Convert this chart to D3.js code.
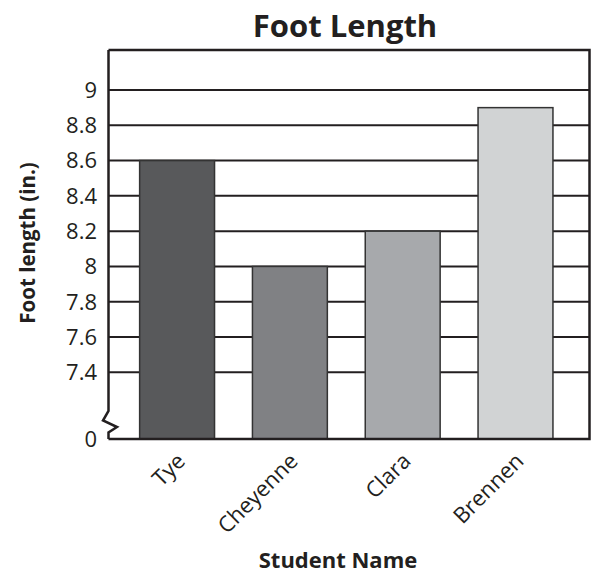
<!DOCTYPE html>
<html><head><meta charset="utf-8">
<script src="https://cdn.jsdelivr.net/npm/d3@7"></script>
<style>body{margin:0;background:#fff}svg{display:block}text{font-family:"Open Sans","Noto Sans",sans-serif;fill:#231f20}</style>
</head><body>
<svg id="c" width="591" height="574"></svg>
<script>
const students = ["Tye", "Cheyenne", "Clara", "Brennen"];
const footLength = [8.6, 8.0, 8.2, 8.9];
const barColors = ["#58595b", "#808184", "#a7a9ac", "#d1d3d4"];
const yTicks = [0, 7.4, 7.6, 7.8, 8, 8.2, 8.4, 8.6, 8.8, 9];
const title = "Foot Length";
const yTitle = "Foot length (in.)";
const xTitle = "Student Name";

(function () {
const svg = d3.select("#c");
const pLeft = 108.5, pRight = 589.5, pTop = 50, pBottom = 439;
const dark = "#231f20";

// broken axis: 0 at bottom, then 7.4 .. 9
const y = d3.scaleLinear().domain([0, 7.4, 9]).range([pBottom, 372.3, 90]);
const x = d3.scaleBand().domain(students).range([pLeft, pRight]).paddingInner(0.336).paddingOuter(0.3).align(0.46);

// gridlines
svg.append("g").selectAll("line").data(yTicks.filter(d => d > 0)).join("line")
  .attr("x1", pLeft).attr("x2", pRight).attr("y1", d => y(d)).attr("y2", d => y(d))
  .attr("stroke", dark).attr("stroke-width", 2);

// bars
svg.append("g").selectAll("rect").data(students).join("rect")
  .attr("x", d => x(d)).attr("width", x.bandwidth())
  .attr("y", (d, i) => y(footLength[i])).attr("height", (d, i) => pBottom - y(footLength[i]))
  .attr("fill", (d, i) => barColors[i]).attr("stroke", "#333").attr("stroke-width", 1.5);

// frame: top, right, bottom
svg.append("path").attr("d", `M${pLeft},${pTop}H${pRight}V${pBottom}H${pLeft}`)
  .attr("fill", "none").attr("stroke", dark).attr("stroke-width", 2.5);

// left axis with break
const bTop = 411;
svg.append("path")
  .attr("d", `M${pLeft},${pTop}V${bTop}L${pLeft-5.5},${bTop+9.5}L${pLeft+8.5},${bTop+16}L${pLeft},${bTop+21.5}V${pBottom}`)
  .attr("fill", "none").attr("stroke", dark).attr("stroke-width", 2.5).attr("stroke-linejoin", "miter");

// y tick labels
svg.append("g").selectAll("text").data(yTicks).join("text")
  .attr("x", 97).attr("y", d => y(d)).attr("dy", "0.36em").attr("text-anchor", "end")
  .attr("font-size", 22).text(d => d);

// x tick labels
svg.append("g").selectAll("text").data(students).join("text")
  .attr("transform", d => `translate(${x(d) + x.bandwidth()/2 + 4},${pBottom + 18}) rotate(-45)`)
  .attr("text-anchor", "end").attr("dy", "0.35em").attr("font-size", 22).text(d => d);

// titles
svg.append("text").attr("x", 345).attr("y", 37).attr("text-anchor", "middle")
  .attr("font-size", 31).attr("font-weight", "bold").text(title);
svg.append("text").attr("x", 338).attr("y", 568).attr("text-anchor", "middle")
  .attr("font-size", 22).attr("font-weight", "bold").text(xTitle);
svg.append("text").attr("transform", "translate(35,243) rotate(-90)").attr("text-anchor", "middle")
  .attr("font-size", 20.5).attr("font-weight", "bold").text(yTitle);
})();
</script>
</body></html>
